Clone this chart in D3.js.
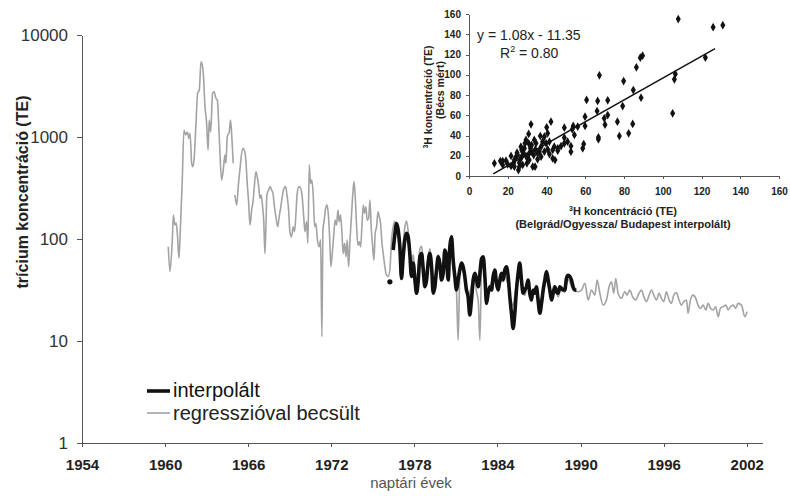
<!DOCTYPE html>
<html>
<head>
<meta charset="utf-8">
<script src="https://cdnjs.cloudflare.com/ajax/libs/d3/7.8.5/d3.min.js"></script>
<style>
body { margin: 0; background: #fff; }
svg { font-family: "Liberation Sans", Arial, sans-serif; }
.axis path, .axis line { stroke: #555; shape-rendering: crispEdges; }
.main-y text { font-size: 17px; fill: #333; }
.main-x text { font-size: 15px; font-weight: bold; fill: #222; }
.inset text { font-size: 10px; font-weight: bold; fill: #222; }
</style>
</head>
<body>
<svg width="790" height="496"></svg>
<script>
// ---- data ----
// regresszióval becsült, [év, TE]  (null = hiány)
var becsult = [
  [1960.23,84],[1960.35,48],[1960.52,98],[1960.6,172],[1960.7,137],[1960.8,144],[1960.9,105],[1961.0,65],
  [1961.1,123],[1961.24,378],[1961.36,1170],[1961.48,1050],[1961.6,1120],[1961.72,970],[1961.8,1090],
  [1961.92,552],[1962.0,512],[1962.1,618],[1962.23,1360],[1962.35,2690],[1962.47,2890],[1962.59,5470],
  [1962.66,5270],[1962.76,4190],[1962.88,1980],[1963.0,1360],[1963.1,746],[1963.19,1470],[1963.29,1120],
  [1963.43,2690],[1963.53,2780],[1963.67,2400],[1963.77,2300],[1963.91,1010],[1964.08,378],[1964.2,475],
  [1964.32,667],[1964.39,552],[1964.49,1010],[1964.63,1120],[1964.73,1470],[1964.83,933],[1964.92,552],
  [1964.98,null],[1965.04,270],[1965.17,215],[1965.28,326],[1965.4,475],[1965.6,774],[1965.71,746],
  [1965.84,573],[1965.93,351],[1966.03,232],[1966.13,137],[1966.25,192],[1966.36,241],[1966.44,326],
  [1966.56,457],[1966.65,408],[1966.76,326],[1966.85,250],[1966.94,270],[1967.04,207],[1967.12,153],
  [1967.21,72],[1967.28,132],[1967.35,270],[1967.47,302],[1967.59,326],[1967.69,302],[1967.79,280],
  [1967.88,215],[1968.0,166],[1968.13,132],[1968.24,166],[1968.34,200],[1968.46,260],[1968.58,314],
  [1968.7,326],[1968.8,270],[1968.92,192],[1969.01,118],[1969.13,105],[1969.25,132],[1969.35,118],
  [1969.45,179],[1969.54,280],[1969.66,326],[1969.79,314],[1969.9,260],[1970.0,172],[1970.1,118],
  [1970.22,148],[1970.31,91],[1970.41,531],[1970.5,351],[1970.6,378],[1970.7,260],[1970.8,132],
  [1970.89,142],[1971.0,98],[1971.13,84],[1971.23,98],[1971.32,11],[1971.4,123],[1971.49,153],
  [1971.59,200],[1971.69,215],[1971.78,179],[1971.88,105],[1971.97,53.5],[1972.07,72],[1972.19,114],
  [1972.28,153],[1972.38,137],[1972.48,192],[1972.57,148],[1972.67,172],[1972.77,114],[1972.86,72],
  [1972.96,91],[1973.06,67],[1973.15,98],[1973.25,53.5],[1973.35,98],[1973.44,153],[1973.54,260],
  [1973.64,365],[1973.73,260],[1973.83,132],[1973.92,87],[1974.02,94],[1974.12,84],[1974.21,132],
  [1974.31,215],[1974.4,179],[1974.5,207],[1974.59,153],[1974.7,160],[1974.79,241],[1974.88,132],
  [1974.98,87],[1975.08,62],[1975.17,114],[1975.27,132],[1975.37,185],[1975.46,166],[1975.56,142],
  [1975.66,91],[1975.75,72],[1975.87,53.5],[1975.99,44],[1976.11,43],[1976.23,49.7],[1976.35,98],
  [1976.47,132],[1976.59,148],[1976.71,127],[1976.83,98],[1976.95,80],[1977.07,60],[1977.19,90],
  [1977.31,130],[1977.43,150],[1977.55,120],[1977.67,80],[1977.79,55],[1977.91,70],[1978.04,50],
  [1978.16,40],[1978.28,55],[1978.4,80],[1978.52,85],[1978.64,60],[1978.76,42],[1978.88,50],
  [1978.99,65],[1979.12,80],[1979.24,60],[1979.36,40],[1979.48,42],[1979.6,55],[1979.72,70],
  [1979.84,60],[1979.96,45],[1980.08,50],[1980.2,70],[1980.32,60],[1980.44,45],[1980.56,75],
  [1980.68,90],[1980.8,60],[1980.92,40],[1981.04,30],[1981.16,10.2],[1981.28,45],[1981.4,55],
  [1981.52,50],[1981.64,40],[1981.76,32],[1981.88,28],[1982.0,30],[1982.12,35],[1982.25,45],
  [1982.37,40],[1982.49,30],[1982.61,25],[1982.73,10.2],[1982.85,50],[1982.97,55],[1983.09,40],
  [1983.21,30],[1983.33,32],[1983.45,35],[1983.57,38],[1983.69,45],[1983.81,42],[1983.93,33],
  [1984.05,35],[1984.17,40],[1984.29,38],[1984.41,42],[1984.53,45],[1984.65,40],[1984.77,35],
  [1984.89,28],[1985.01,24],[1985.13,22],[1985.25,28],[1985.37,35],[1985.49,42],[1985.61,45],
  [1985.73,38],[1985.85,30],[1985.97,28],[1986.09,32],[1986.21,35],[1986.33,30],[1986.45,26],
  [1986.57,30],[1986.69,32],[1986.81,34],[1986.93,28],[1987.06,24],[1987.18,26],[1987.3,30],
  [1987.42,36],[1987.54,40],[1987.66,35],[1987.78,30],[1987.9,26],[1988.02,28],[1988.14,32],
  [1988.26,30],[1988.38,27],[1988.5,30],[1988.62,33],[1988.74,31],[1988.86,30],[1988.98,36],
  [1989.1,40],[1989.22,38],[1989.34,34],[1989.47,31.6],[1989.83,30.4],[1990.07,31.6],[1990.31,36.8],
  [1990.55,25.2],[1990.79,31.6],[1991.03,28.2],[1991.2,39.6],[1991.39,29.4],[1991.63,22.5],
  [1991.87,25.2],[1992.06,34],[1992.23,38],[1992.4,29.4],[1992.54,41],[1992.71,29.4],[1992.95,26.2],
  [1993.19,30.4],[1993.36,28.2],[1993.55,31.6],[1993.75,27.2],[1993.99,25.2],[1994.22,29.4],
  [1994.4,31.6],[1994.57,27.2],[1994.76,24.3],[1994.95,28.2],[1995.12,31.6],[1995.29,28.2],
  [1995.48,25.2],[1995.67,29.4],[1995.84,26.2],[1996.01,24.3],[1996.2,30.4],[1996.39,25.2],
  [1996.56,23.4],[1996.73,28.2],[1996.92,29.8],[1997.11,25.2],[1997.28,22.5],[1997.45,24.3],
  [1997.65,25.2],[1997.76,18.7],[1997.93,25.2],[1998.12,28.2],[1998.32,26.2],[1998.48,22.5],
  [1998.66,20.9],[1998.85,22.5],[1999.04,20.1],[1999.21,23.4],[1999.38,20.9],[1999.57,20.1],
  [1999.76,21.7],[1999.93,17.3],[2000.1,20.9],[2000.29,21.7],[2000.49,22.5],[2000.65,20.1],
  [2000.82,21.7],[2001.01,22.5],[2001.2,20.9],[2001.37,23.4],[2001.62,22.5],[2001.86,17.3],[2002.02,19.4]
];

// interpolált, [év, TE]
var interpolalt = [
  [1976.23,38],[1976.35,null],[1976.47,78],[1976.6,114],[1976.71,142],[1976.83,123],[1976.95,84],
  [1977.07,41],[1977.19,67],[1977.31,98],[1977.43,114],[1977.55,105],[1977.67,72],[1977.79,43],
  [1977.91,58],[1978.04,39.6],[1978.16,29.4],[1978.28,39.6],[1978.4,67],[1978.52,72],[1978.64,49.7],
  [1978.76,34],[1978.88,39.6],[1978.99,58],[1979.12,72],[1979.24,53.5],[1979.36,29.4],[1979.48,34],
  [1979.6,49.7],[1979.72,67],[1979.84,58],[1979.96,39.6],[1980.08,46],[1980.2,78],[1980.32,67],
  [1980.44,39.6],[1980.56,84],[1980.68,105],[1980.8,62],[1980.92,43],[1981.04,31.6],[1981.16,39.6],
  [1981.28,49.7],[1981.4,58],[1981.52,53.5],[1981.64,43],[1981.76,31.6],[1981.88,27.2],[1982.0,18],
  [1982.12,25.2],[1982.25,39.6],[1982.37,46],[1982.49,39.6],[1982.61,34],[1982.73,46],[1982.85,64],
  [1982.97,67],[1983.09,43],[1983.21,23.4],[1983.33,29.4],[1983.45,34],[1983.57,31.6],[1983.69,43],
  [1983.81,49.7],[1983.93,36.8],[1984.05,31.6],[1984.17,39.6],[1984.29,46],[1984.41,39.6],[1984.53,49.7],
  [1984.65,53.5],[1984.77,43],[1984.89,27.2],[1985.01,18.7],[1985.13,13.3],[1985.25,18.7],[1985.37,31.6],
  [1985.49,46],[1985.61,58],[1985.73,39.6],[1985.85,29.4],[1985.97,31.6],[1986.09,34],[1986.21,39.6],
  [1986.33,29.4],[1986.45,25.2],[1986.57,31.6],[1986.69,29.4],[1986.81,34],[1986.93,25.2],[1987.06,18.7],
  [1987.18,23.4],[1987.3,31.6],[1987.42,39.6],[1987.54,48],[1987.66,39.6],[1987.78,31.6],[1987.9,25.2],
  [1988.02,29.4],[1988.14,34],[1988.26,30.4],[1988.38,29.4],[1988.5,34],[1988.62,32.8],[1988.74,31.6],
  [1988.86,31.6],[1988.98,41],[1989.1,44],[1989.22,43],[1989.34,39.6],[1989.46,34],[1989.58,31.6],[1989.7,31.6]
];

// inset: Belgrád/Ogyessza/Budapest interpolált (x) vs Bécs mért (y)
var scatterX = [108,126,131,122,88.4,89.6,86.4,67.3,79.8,84.8,106.5,106,88.8,60.7,66.4,71.6,79.3,66.1,69.8,71.6,
  70.2,76.6,84.5,105.1,82.4,77.6,66.8,66.8,59.9,59.9,59.2,58.7,53.8,53.3,49.2,56.1,54.4,49.2,50.9,52.6,
  52.6,42.3,40.1,32,30.8,36.8,40.6,41.5,44,45.8,43.2,44.4,38.9,37.2,13.1,17.4,19.1,20,21.7,23.1,
  24.3,24.8,25.5,26.5,27.2,27.7,28.6,28.9,29.4,29.9,30.3,31.1,31.7,32.3,32.9,33.4,34.2,34.6,35.4,36.3,
  37.2,23.4,25.1,26.8,27.7,21.7,26,28.2,31.1,32.3,33.7,30.8,27.2,29.4,35.4,38,38.9,39.8,40.6,41.5,
  43.2,45.8,47.5,49.2,17.4,16.2,23.4,34.1,26];
var scatterY = [155,147,149,117,116.9,118.8,107.3,99.4,93.8,84.9,100.7,95.5,77.4,75.1,74.1,74.7,69.1,64.2,57,60.2,
  50.7,53.7,51.4,61.9,42.1,39.5,38.2,36.2,58.6,49.4,31.6,27.3,49.4,46.1,47.7,48.7,40.5,37.9,33.9,29.6,
  24,53.7,48.1,51,41.5,39.5,42.1,33.9,29,27.3,17.4,15.8,24,19.1,12.5,14.8,15.1,11.5,9.9,13.2,
  19.1,23,5.9,16.5,19.1,24,27.3,32.3,35.6,12.5,17.4,22.4,27.3,30.6,9.2,20.7,26.3,32.3,16.5,24,
  29,15.8,20.7,29,10.9,19.8,13.2,21.7,15.8,24,35.6,32.3,25.7,19.8,22.4,33.9,38.8,32.3,26.3,21.7,
  25.7,25,29.6,32.3,10.9,14.8,9.2,9.2,9.2];
var regSlope = 1.08, regIntercept = -11.35, regFrom = 12.5, regTo = 127;

// ticks
var yearTicks = [1954, 1960, 1966, 1972, 1978, 1984, 1990, 1996, 2002];
var logTicks = [1, 10, 100, 1000, 10000];
var insetTicks = [0, 20, 40, 60, 80, 100, 120, 140, 160];

var svg = d3.select('svg');

// ---- main chart ----
var xScale = d3.scaleLinear().domain([1954, 2003.1]).range([82, 762]);
var yScale = d3.scaleLog().domain([1, 10000]).range([443, 35]);

svg.append('g')
    .attr('class', 'axis main-y')
    .attr('transform', 'translate(82,0)')
    .call(d3.axisLeft(yScale).tickValues(logTicks).tickFormat(d3.format('d'))
        .tickSize(5).tickSizeOuter(0).tickPadding(9));

svg.append('g')
    .attr('class', 'axis main-x')
    .attr('transform', 'translate(0,443)')
    .call(d3.axisBottom(xScale).tickValues(yearTicks).tickFormat(d3.format('d'))
        .tickSize(4).tickSizeOuter(0).tickPadding(12));

svg.selectAll('.axis .domain').attr('stroke', '#555').attr('stroke-width', 1.3);

// axis titles
svg.append('text')
    .attr('transform', 'translate(22,192) rotate(-90)')
    .attr('text-anchor', 'middle')
    .attr('dy', '0.35em')
    .style('font-size', '16px')
    .style('font-weight', 'bold')
    .style('fill', '#222')
    .text('trícium koncentráció (TE)');

svg.append('text')
    .attr('x', 411)
    .attr('y', 488)
    .attr('text-anchor', 'middle')
    .style('font-size', '15px')
    .style('fill', '#555')
    .text('naptári évek');

var line = d3.line()
    .defined(function(d) { return d[1] != null; })
    .x(function(d) { return xScale(d[0]); })
    .y(function(d) { return yScale(d[1]); })
    .curve(d3.curveMonotoneX);

// lone points between gaps are drawn as dots
function lonePoints(data) {
    return data.filter(function(d, i) {
        if (d[1] == null) return false;
        var prev = data[i - 1], next = data[i + 1];
        return (!prev || prev[1] == null) && (!next || next[1] == null);
    });
}

svg.append('path')
    .datum(becsult)
    .attr('d', line)
    .attr('fill', 'none')
    .attr('stroke', '#a3a3a3')
    .attr('stroke-width', 1.6);

svg.append('path')
    .datum(interpolalt)
    .attr('d', line)
    .attr('fill', 'none')
    .attr('stroke', '#111')
    .attr('stroke-width', 3.6)
    .attr('stroke-linejoin', 'round');

svg.selectAll('.dot')
    .data(lonePoints(interpolalt))
    .enter().append('circle')
    .attr('class', 'dot')
    .attr('cx', function(d) { return xScale(d[0]); })
    .attr('cy', function(d) { return yScale(d[1]); })
    .attr('r', 2.6)
    .attr('fill', '#111');

// legend
var legend = svg.append('g').attr('transform', 'translate(147,0)');
legend.append('line').attr('x1', 0).attr('x2', 23).attr('y1', 391).attr('y2', 391)
    .attr('stroke', '#111').attr('stroke-width', 3.6);
legend.append('text').attr('x', 26).attr('y', 397).style('font-size', '20px').style('fill', '#111')
    .text('interpolált');
legend.append('line').attr('x1', 0).attr('x2', 23).attr('y1', 413).attr('y2', 413)
    .attr('stroke', '#a3a3a3').attr('stroke-width', 1.6);
legend.append('text').attr('x', 26).attr('y', 420).style('font-size', '20px').style('fill', '#222')
    .text('regresszióval becsült');

// ---- inset scatter ----
var sx = d3.scaleLinear().domain([0, 160]).range([469, 779]);
var sy = d3.scaleLinear().domain([0, 160]).range([176, 14]);

var inset = svg.append('g').attr('class', 'inset');

inset.append('g')
    .attr('class', 'axis')
    .attr('transform', 'translate(469,0)')
    .call(d3.axisLeft(sy).tickValues(insetTicks).tickSize(3).tickSizeOuter(0).tickPadding(5));

inset.append('g')
    .attr('class', 'axis')
    .attr('transform', 'translate(0,176)')
    .call(d3.axisBottom(sx).tickValues(insetTicks).tickSize(3).tickSizeOuter(0).tickPadding(9));

inset.selectAll('.domain').attr('stroke', '#555');

var pts = scatterX.map(function(x, i) { return [x, scatterY[i]]; });
inset.selectAll('.pt')
    .data(pts)
    .enter().append('path')
    .attr('class', 'pt')
    .attr('d', d3.symbol().type(d3.symbolDiamond).size(22))
    .attr('transform', function(d) { return 'translate(' + sx(d[0]) + ',' + sy(d[1]) + ')'; })
    .attr('fill', '#111');

inset.append('line')
    .attr('x1', sx(regFrom)).attr('y1', sy(regSlope * regFrom + regIntercept))
    .attr('x2', sx(regTo)).attr('y2', sy(regSlope * regTo + regIntercept))
    .attr('stroke', '#111').attr('stroke-width', 1.5);

var eq = inset.append('text').attr('x', 477).attr('y', 40)
    .style('font-size', '14px').style('font-weight', 'normal').style('fill', '#222')
    .text('y = 1.08x - 11.35');
var r2 = inset.append('text').attr('x', 500).attr('y', 58)
    .style('font-size', '14px').style('font-weight', 'normal').style('fill', '#222');
r2.append('tspan').text('R');
r2.append('tspan').attr('dy', -6).style('font-size', '9px').text('2');
r2.append('tspan').attr('dy', 6).text(' = 0.80');

// inset axis titles
function superH(sel, rest) {
    sel.append('tspan').attr('dy', -4).style('font-size', '7px').text('3');
    sel.append('tspan').attr('dy', 4).text(rest);
}
var xt1 = inset.append('text').attr('x', 623).attr('y', 215).attr('text-anchor', 'middle')
    .style('font-size', '11px');
superH(xt1, 'H koncentráció (TE)');
inset.append('text').attr('x', 623).attr('y', 228).attr('text-anchor', 'middle')
    .style('font-size', '11px')
    .text('(Belgrád/Ogyessza/ Budapest interpolált)');

var yt1 = inset.append('text').attr('transform', 'translate(432,97) rotate(-90)')
    .attr('text-anchor', 'middle').style('font-size', '10.5px');
superH(yt1, 'H koncentráció (TE)');
inset.append('text').attr('transform', 'translate(444,90) rotate(-90)')
    .attr('text-anchor', 'middle').style('font-size', '10.5px')
    .text('(Bécs mért)');
</script>
</body>
</html>
